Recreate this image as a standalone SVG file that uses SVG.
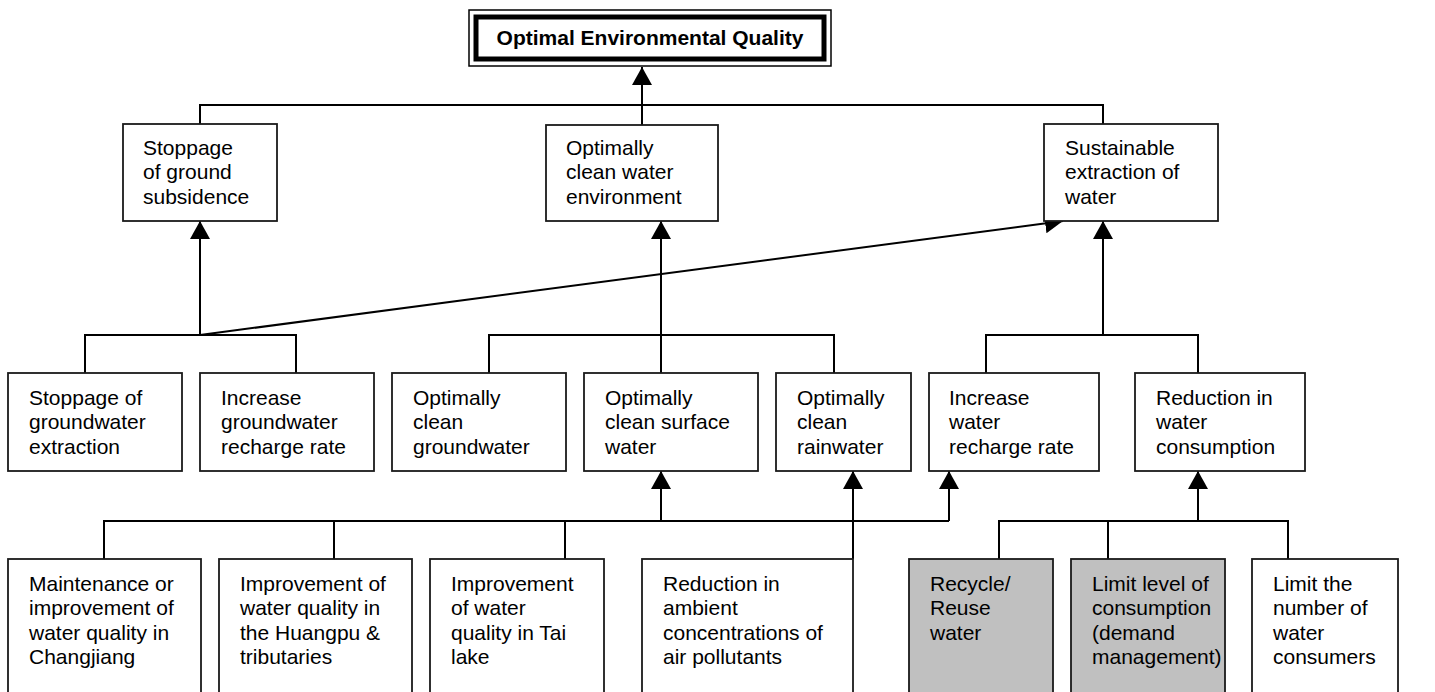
<svg xmlns="http://www.w3.org/2000/svg" width="1435" height="692" viewBox="0 0 1435 692">
  <style>
    .box { fill: #ffffff; stroke: #1a1a1a; stroke-width: 1.8; }
    .shaded { fill: #c0c0c0; stroke: #1a1a1a; stroke-width: 1.8; }
    .lbl { font-family: "Liberation Sans", Arial, sans-serif; font-size: 21px; fill: #000000; }
    .title { font-family: "Liberation Sans", Arial, sans-serif; font-size: 21px; font-weight: bold; fill: #000000; }
    .wire { fill: none; stroke: #000000; stroke-width: 2; }
  </style>
  <defs>
    <marker id="head" markerUnits="userSpaceOnUse" markerWidth="19" markerHeight="20" refX="18" refY="10" orient="auto">
      <path d="M0,0 L18,10 L0,20 z" fill="#000000"/>
    </marker>
  </defs>

  <rect width="1435" height="692" fill="#ffffff"/>

  <!-- connectors -->
  <g id="connectors" class="wire">
    <!-- level 1 to goal -->
    <polyline points="200,124 200,105 1103,105 1103,124"/>
    <line x1="642" y1="125" x2="642" y2="67" marker-end="url(#head)"/>

    <!-- groundwater subsidence branch -->
    <polyline points="85,373 85,335 296,335 296,373"/>
    <line x1="200" y1="335" x2="200" y2="221" marker-end="url(#head)"/>
    <line x1="200" y1="335" x2="1063" y2="221" marker-end="url(#head)"/>

    <!-- clean water branch -->
    <polyline points="489,373 489,335 834,335 834,373"/>
    <line x1="661" y1="373" x2="661" y2="221" marker-end="url(#head)"/>

    <!-- extraction branch -->
    <polyline points="986,373 986,335 1198,335 1198,373"/>
    <line x1="1103" y1="335" x2="1103" y2="221" marker-end="url(#head)"/>

    <!-- water quality measures -->
    <polyline points="104,559 104,521 949,521"/>
    <line x1="334" y1="521" x2="334" y2="559"/>
    <line x1="565" y1="521" x2="565" y2="559"/>
    <line x1="661" y1="521" x2="661" y2="471" marker-end="url(#head)"/>
    <line x1="949" y1="521" x2="949" y2="471" marker-end="url(#head)"/>
    <line x1="853" y1="559" x2="853" y2="471" marker-end="url(#head)"/>

    <!-- consumption measures -->
    <polyline points="999,559 999,521 1288,521 1288,559"/>
    <line x1="1108" y1="521" x2="1108" y2="559"/>
    <line x1="1198" y1="521" x2="1198" y2="471" marker-end="url(#head)"/>
  </g>

  <!-- goal -->
  <g id="goal">
    <rect x="469" y="10" width="362" height="56" fill="#ffffff" stroke="#000000" stroke-width="1.5"/>
    <rect x="476" y="17" width="348" height="42" fill="#ffffff" stroke="#000000" stroke-width="5"/>
    <text class="title" x="650" y="45" text-anchor="middle">Optimal Environmental Quality</text>
  </g>

  <!-- level 1 objectives -->
  <g id="ground-subsidence">
    <rect class="box" x="123" y="124" width="154" height="97"/>
    <text class="lbl" x="143" y="155"><tspan x="143">Stoppage</tspan><tspan x="143" dy="24.3">of ground</tspan><tspan x="143" dy="24.3">subsidence</tspan></text>
  </g>
  <g id="clean-water-env">
    <rect class="box" x="546" y="125" width="172" height="96"/>
    <text class="lbl" x="566" y="155"><tspan x="566">Optimally</tspan><tspan x="566" dy="24.3">clean water</tspan><tspan x="566" dy="24.3">environment</tspan></text>
  </g>
  <g id="sustainable-extraction">
    <rect class="box" x="1044" y="124" width="174" height="97"/>
    <text class="lbl" x="1065" y="155"><tspan x="1065">Sustainable</tspan><tspan x="1065" dy="24.3">extraction of</tspan><tspan x="1065" dy="24.3">water</tspan></text>
  </g>

  <!-- level 2 objectives -->
  <g id="stop-extraction">
    <rect class="box" x="8" y="373" width="174" height="98"/>
    <text class="lbl" x="29" y="405"><tspan x="29">Stoppage of</tspan><tspan x="29" dy="24.3">groundwater</tspan><tspan x="29" dy="24.3">extraction</tspan></text>
  </g>
  <g id="gw-recharge">
    <rect class="box" x="200" y="373" width="174" height="98"/>
    <text class="lbl" x="221" y="405"><tspan x="221">Increase</tspan><tspan x="221" dy="24.3">groundwater</tspan><tspan x="221" dy="24.3">recharge rate</tspan></text>
  </g>
  <g id="clean-groundwater">
    <rect class="box" x="392" y="373" width="174" height="98"/>
    <text class="lbl" x="413" y="405"><tspan x="413">Optimally</tspan><tspan x="413" dy="24.3">clean</tspan><tspan x="413" dy="24.3">groundwater</tspan></text>
  </g>
  <g id="clean-surface">
    <rect class="box" x="584" y="373" width="174" height="98"/>
    <text class="lbl" x="605" y="405"><tspan x="605">Optimally</tspan><tspan x="605" dy="24.3">clean surface</tspan><tspan x="605" dy="24.3">water</tspan></text>
  </g>
  <g id="clean-rain">
    <rect class="box" x="776" y="373" width="135" height="98"/>
    <text class="lbl" x="797" y="405"><tspan x="797">Optimally</tspan><tspan x="797" dy="24.3">clean</tspan><tspan x="797" dy="24.3">rainwater</tspan></text>
  </g>
  <g id="water-recharge">
    <rect class="box" x="929" y="373" width="170" height="98"/>
    <text class="lbl" x="949" y="405"><tspan x="949">Increase</tspan><tspan x="949" dy="24.3">water</tspan><tspan x="949" dy="24.3">recharge rate</tspan></text>
  </g>
  <g id="reduce-consumption">
    <rect class="box" x="1135" y="373" width="170" height="98"/>
    <text class="lbl" x="1156" y="405"><tspan x="1156">Reduction in</tspan><tspan x="1156" dy="24.3">water</tspan><tspan x="1156" dy="24.3">consumption</tspan></text>
  </g>

  <!-- measures -->
  <g id="changjiang">
    <rect class="box" x="8" y="559" width="193" height="150"/>
    <text class="lbl" x="29" y="591"><tspan x="29">Maintenance or</tspan><tspan x="29" dy="24.3">improvement of</tspan><tspan x="29" dy="24.3">water quality in</tspan><tspan x="29" dy="24.3">Changjiang</tspan></text>
  </g>
  <g id="huangpu">
    <rect class="box" x="219" y="559" width="193" height="150"/>
    <text class="lbl" x="240" y="591"><tspan x="240">Improvement of</tspan><tspan x="240" dy="24.3">water quality in</tspan><tspan x="240" dy="24.3">the Huangpu &amp;</tspan><tspan x="240" dy="24.3">tributaries</tspan></text>
  </g>
  <g id="tai-lake">
    <rect class="box" x="430" y="559" width="174" height="150"/>
    <text class="lbl" x="451" y="591"><tspan x="451">Improvement</tspan><tspan x="451" dy="24.3">of water</tspan><tspan x="451" dy="24.3">quality in Tai</tspan><tspan x="451" dy="24.3">lake</tspan></text>
  </g>
  <g id="air-pollutants">
    <rect class="box" x="642" y="559" width="211" height="150"/>
    <text class="lbl" x="663" y="591"><tspan x="663">Reduction in</tspan><tspan x="663" dy="24.3">ambient</tspan><tspan x="663" dy="24.3">concentrations of</tspan><tspan x="663" dy="24.3">air pollutants</tspan></text>
  </g>
  <g id="recycle">
    <rect class="shaded" x="909" y="559" width="144" height="150"/>
    <text class="lbl" x="930" y="591"><tspan x="930">Recycle/</tspan><tspan x="930" dy="24.3">Reuse</tspan><tspan x="930" dy="24.3">water</tspan></text>
  </g>
  <g id="limit-level">
    <rect class="shaded" x="1071" y="559" width="154" height="150"/>
    <text class="lbl" x="1092" y="591"><tspan x="1092">Limit level of</tspan><tspan x="1092" dy="24.3">consumption</tspan><tspan x="1092" dy="24.3">(demand</tspan><tspan x="1092" dy="24.3">management)</tspan></text>
  </g>
  <g id="limit-consumers">
    <rect class="box" x="1252" y="559" width="146" height="150"/>
    <text class="lbl" x="1273" y="591"><tspan x="1273">Limit the</tspan><tspan x="1273" dy="24.3">number of</tspan><tspan x="1273" dy="24.3">water</tspan><tspan x="1273" dy="24.3">consumers</tspan></text>
  </g>
</svg>
